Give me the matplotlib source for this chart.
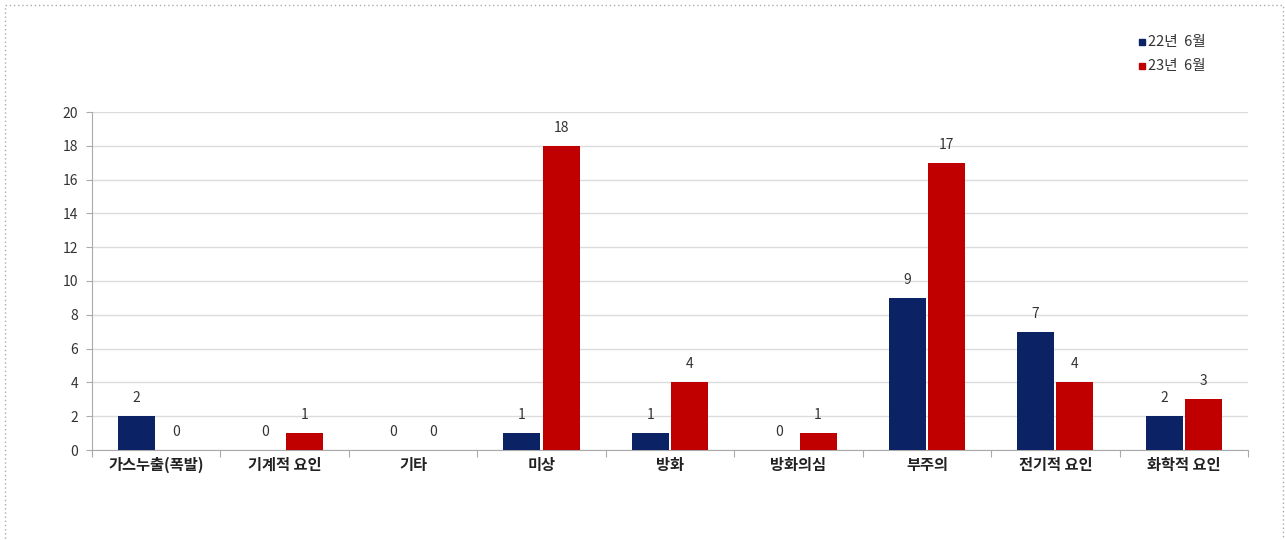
import matplotlib
matplotlib.use("Agg")
import matplotlib.pyplot as plt
import numpy as np
from matplotlib.patches import Rectangle

plt.rcParams['font.family'] = ['Noto Sans CJK KR', 'DejaVu Sans']

categories = ["가스누출(폭발)", "기계적 요인", "기타", "미상", "방화", "방화의심", "부주의", "전기적 요인", "화학적 요인"]
series_names = ["22년  6월", "23년  6월"]
values_22 = [2, 0, 0, 1, 1, 0, 9, 7, 2]
values_23 = [0, 1, 0, 18, 4, 1, 17, 4, 3]
y_ticks = [0, 2, 4, 6, 8, 10, 12, 14, 16, 18, 20]

blue = "#0b2265"
red = "#c00000"

W, H = 1285, 540
fig = plt.figure(figsize=(W / 100, H / 100), dpi=100)
ax = fig.add_axes([92 / W, (H - 450) / H, (1248 - 92) / W, (450 - 112) / H])

x = np.arange(len(categories))
bw = 0.288
off = 0.153
b1 = ax.bar(x - off, values_22, bw, color=blue, zorder=3)
b2 = ax.bar(x + off, values_23, bw, color=red, zorder=3)

for bars, vals in ((b1, values_22), (b2, values_23)):
    for rect, v in zip(bars, vals):
        ax.annotate(str(v), (rect.get_x() + rect.get_width() / 2, v),
                    xytext=(0, 8), textcoords="offset points",
                    ha="center", va="bottom", fontsize=10, color="#333333")

ax.set_xlim(-0.5, len(categories) - 0.5)
ax.set_ylim(0, 20)
ax.set_yticks(y_ticks)
ax.set_yticklabels([str(t) for t in y_ticks], fontsize=10, color="#333333")
ax.yaxis.grid(True, color="#dcdcdc", linewidth=1, zorder=0)
ax.set_axisbelow(True)

ax.set_xticks(np.arange(-0.5, len(categories), 1.0))
ax.set_xticklabels([])
ax.set_xticks(x, minor=True)
ax.set_xticklabels(categories, minor=True, fontsize=11, fontweight="bold", color="#222222")
ax.tick_params(axis="x", which="minor", length=0, pad=5)
ax.tick_params(axis="x", which="major", length=5, color="#aaaaaa", direction="out")
ax.tick_params(axis="y", length=4, color="#aaaaaa", direction="out", pad=6)

for s in ("top", "right"):
    ax.spines[s].set_visible(False)
for s in ("left", "bottom"):
    ax.spines[s].set_color("#aaaaaa")

# legend
for i, (name, col) in enumerate(zip(series_names, (blue, red))):
    yy = 1 - (42 + i * 24) / H
    fig.add_artist(Rectangle((1139 / W, yy - 3 / H), 6 / W, 6 / H, color=col, transform=fig.transFigure))
    fig.text(1148 / W, yy, name, fontsize=10.5, color="#333333", va="center", ha="left")

# dotted border
fig.add_artist(Rectangle((5 / W, -0.05), (1283 - 5) / W, 1.05 - 5 / H, fill=False,
                         edgecolor="#aaaaaa", linestyle=(0, (1, 2)), linewidth=1,
                         transform=fig.transFigure))

fig.savefig("out.png", dpi=100)
